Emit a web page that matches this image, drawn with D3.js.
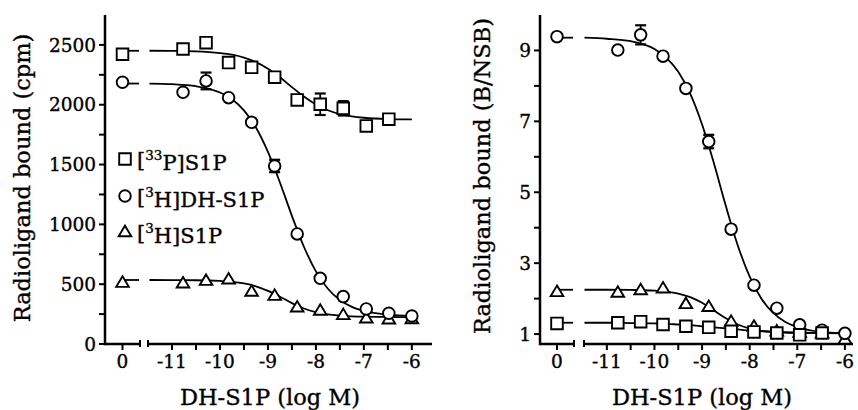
<!DOCTYPE html>
<html><head><meta charset="utf-8">
<script src="https://cdn.jsdelivr.net/npm/d3@7"></script>
<style>
html,body{margin:0;padding:0;background:#fff;}
svg text{font-family:"DejaVu Serif",serif;fill:#000;stroke:#000;stroke-width:0.35px;}
</style></head>
<body><svg id="chart" width="858" height="410"></svg>
<script>
// ---------- DATA ----------
const logConc = [-10.77, -10.29, -9.82, -9.34, -8.86, -8.39, -7.91, -7.43, -6.95, -6.48, -6.0];
const xTickMajor = [-11, -10, -9, -8, -7, -6];
const xTickMinor = [-10.5, -9.5, -8.5, -7.5, -6.5];
const xTickLabels = ["-11", "-10", "-9", "-8", "-7", "-6"];
const curveX = [-11.47, -11, -10.5, -10, -9.75, -9.5, -9.25, -9, -8.75, -8.5, -8.25, -8, -7.75, -7.5, -7.25, -7, -6.5, -6];

// Left panel (cpm)
const leftYTicks = [0, 500, 1000, 1500, 2000, 2500];
const leftYMinor = [250, 750, 1250, 1750, 2250];
const leftSquare0 = 2422;
const leftSquare = [2466, 2519, 2352, 2313, 2230, 2040, 2004, 1970, 1823, 1879];
const leftSquareErr = [0, 0, 0, 0, 0, 0, 90, 60, 0, 0];
const leftCircle0 = 2188;
const leftCircle = [2104, 2199, 2059, 1853, 1488, 920, 549, 396, 293, 257, 234];
const leftCircleErr = [0, 70, 0, 0, 52, 0, 0, 0, 0, 0, 0];
const leftTriangle0 = 513;
const leftTriangle = [507, 529, 541, 438, 404, 307, 279, 243, 215, 206, 209];
const leftSquareCurve = [2451, 2450, 2446, 2432, 2418, 2394, 2356, 2301, 2229, 2147, 2068, 2002, 1954, 1922, 1903, 1891, 1880, 1877];
const leftCircleCurve = [2177, 2172, 2155, 2102, 2046, 1953, 1810, 1606, 1350, 1071, 813, 607, 462, 368, 310, 276, 245, 235];
const leftTriangleCurve = [535, 534, 533, 527, 520, 506, 482, 444, 395, 342, 297, 266, 247, 237, 231, 228, 226, 225];

// Right panel (B/NSB)
const rightYTicks = [1, 3, 5, 7, 9];
const rightYMinor = [2, 4, 6, 8];
const rightCircle0 = 9.39;
const rightCircle = [9.01, 9.44, 8.84, 7.93, 6.43, 3.96, 2.38, 1.73, 1.26, 1.11, 1.02];
const rightCircleErr = [0, 0.27, 0, 0, 0.19, 0, 0, 0, 0, 0, 0];
const rightTriangle0 = 2.19;
const rightTriangle = [2.17, 2.24, 2.29, 1.85, 1.77, 1.35, 1.21, 1.08, 1.04, 1.02, 0.85];
const rightSquare0 = 1.30;
const rightSquare = [1.32, 1.35, 1.27, 1.22, 1.19, 1.08, 1.06, 1.03, 0.98, 1.03];
const rightCircleCurve = [9.36, 9.33, 9.26, 9.04, 8.79, 8.40, 7.78, 6.91, 5.81, 4.61, 3.50, 2.62, 1.99, 1.59, 1.34, 1.20, 1.06, 1.02];
const rightTriangleCurve = [2.25, 2.25, 2.244, 2.224, 2.196, 2.142, 2.043, 1.882, 1.667, 1.446, 1.27, 1.157, 1.093, 1.061, 1.045, 1.037, 1.031, 1.03];
const rightSquareCurve = [1.32, 1.32, 1.31, 1.30, 1.29, 1.27, 1.25, 1.22, 1.19, 1.16, 1.13, 1.10, 1.08, 1.06, 1.05, 1.04, 1.03, 1.02];

const legendLabels = [["[", "33", "P]S1P"], ["[", "3", "H]DH-S1P"], ["[", "3", "H]S1P"]];
const xTitle = "DH-S1P (log M)";
const leftYTitle = "Radioligand bound (cpm)";
const rightYTitle = "Radioligand bound (B/NSB)";

// ---------- DRAW ----------
const svg = d3.select("#chart");
const AX_W = 2.5;

function markerPath(shape, cx, cy) {
  if (shape === "square") { const s = 5.8; return `M${cx-s},${cy-s}H${cx+s}V${cy+s}H${cx-s}Z`; }
  if (shape === "triangle") { const w = 6.3, h = 10.5; return `M${cx},${cy-h*0.6}L${cx+w},${cy+h*0.4}L${cx-w},${cy+h*0.4}Z`; }
  return null;
}
function drawMarker(g, shape, cx, cy) {
  if (shape === "circle") {
    g.append("circle").attr("cx", cx).attr("cy", cy).attr("r", 5.8)
      .attr("fill", "#fff").attr("stroke", "#000").attr("stroke-width", 1.9);
  } else {
    g.append("path").attr("d", markerPath(shape, cx, cy))
      .attr("fill", "#fff").attr("stroke", "#000").attr("stroke-width", 1.9);
  }
}

function panel(cfg) {
  const g = svg.append("g");
  const y = d3.scaleLinear().domain(cfg.yDomain).range([344, 15]);
  const x0 = d3.scaleLinear().domain([-0.36, 0.36]).range([cfg.axisX, cfg.seg1End]);
  const x = d3.scaleLinear().domain(cfg.xDomain).range([cfg.seg2Start, cfg.seg2End]);
  const yBase = y(cfg.yDomain[0]);

  g.append("line").attr("x1", cfg.axisX).attr("x2", cfg.axisX).attr("y1", y(cfg.yDomain[1])).attr("y2", yBase + AX_W/2)
    .attr("stroke", "#000").attr("stroke-width", AX_W);
  g.append("line").attr("x1", cfg.axisX).attr("x2", cfg.seg1End).attr("y1", yBase).attr("y2", yBase)
    .attr("stroke", "#000").attr("stroke-width", AX_W);
  g.append("line").attr("x1", cfg.seg2Start).attr("x2", cfg.seg2End).attr("y1", yBase).attr("y2", yBase)
    .attr("stroke", "#000").attr("stroke-width", AX_W);
  [cfg.seg1End, cfg.seg2Start].forEach(px => {
    g.append("line").attr("x1", px).attr("x2", px).attr("y1", yBase - 4).attr("y2", yBase + 3)
      .attr("stroke", "#000").attr("stroke-width", 2);
  });
  cfg.yTicks.concat(cfg.yMinor).forEach(v => {
    g.append("line").attr("x1", cfg.axisX - 6).attr("x2", cfg.axisX).attr("y1", y(v)).attr("y2", y(v))
      .attr("stroke", "#000").attr("stroke-width", 2);
  });
  cfg.yTicks.forEach(v => {
    g.append("text").attr("x", cfg.axisX - 9).attr("y", y(v)).attr("dy", "0.36em")
      .attr("text-anchor", "end").attr("font-size", 18.5).text(v);
  });
  const xt = [{px: x0(0), lab: "0"}].concat(xTickMajor.map((v, i) => ({px: x(v), lab: xTickLabels[i]})));
  xt.forEach(t => {
    g.append("line").attr("x1", t.px).attr("x2", t.px).attr("y1", yBase).attr("y2", yBase + 6)
      .attr("stroke", "#000").attr("stroke-width", 2);
    g.append("text").attr("x", t.px).attr("y", 368).attr("text-anchor", "middle").attr("font-size", 18.5).text(t.lab);
  });
  xTickMinor.forEach(v => {
    g.append("line").attr("x1", x(v)).attr("x2", x(v)).attr("y1", yBase).attr("y2", yBase + 6)
      .attr("stroke", "#000").attr("stroke-width", 2);
  });
  g.append("text").attr("x", cfg.titleX).attr("y", 405).attr("text-anchor", "middle").attr("font-size", 22.5).text(xTitle);
  g.append("text").attr("transform", `translate(${cfg.yTitleX},${cfg.yTitleY}) rotate(-90)`)
    .attr("text-anchor", "middle").attr("dy", "0.35em").attr("font-size", 22.5).text(cfg.yTitle);

  const line = d3.line().x(d => x(d[0])).y(d => y(d[1])).curve(d3.curveMonotoneX);
  cfg.series.forEach(s => {
    g.append("path").attr("d", line(curveX.map((cx, i) => [cx, s.curve[i]])))
      .attr("fill", "none").attr("stroke", "#000").attr("stroke-width", 1.8);
    g.append("line").attr("x1", x0(0)).attr("x2", x0(0.34)).attr("y1", y(s.curve[0])).attr("y2", y(s.curve[0]))
      .attr("stroke", "#000").attr("stroke-width", 1.8);
  });
  cfg.series.forEach(s => {
    const mg = g.append("g");
    s.vals.forEach((v, i) => {
      const e = s.err ? s.err[i] : 0;
      if (e > 0) {
        const cx = x(logConc[i]);
        mg.append("line").attr("x1", cx).attr("x2", cx).attr("y1", y(v + e)).attr("y2", y(v - e)).attr("stroke", "#000").attr("stroke-width", 1.8);
        [v + e, v - e].forEach(w => mg.append("line").attr("x1", cx - 5.5).attr("x2", cx + 5.5).attr("y1", y(w)).attr("y2", y(w)).attr("stroke", "#000").attr("stroke-width", 2.2));
      }
    });
    drawMarker(mg, s.shape, x0(0), y(s.v0));
    s.vals.forEach((v, i) => drawMarker(mg, s.shape, x(logConc[i]), y(v)));
  });
}

panel({
  axisX: 105, seg1End: 140, seg2Start: 148, seg2End: 432, xDomain: [-11.5, -5.58],
  yDomain: [0, 2750], yTicks: leftYTicks, yMinor: leftYMinor,
  titleX: 270, yTitleX: 22, yTitleY: 178, yTitle: leftYTitle,
  series: [
    {shape: "triangle", v0: leftTriangle0, vals: leftTriangle, curve: leftTriangleCurve},
    {shape: "square", v0: leftSquare0, vals: leftSquare, err: leftSquareErr, curve: leftSquareCurve},
    {shape: "circle", v0: leftCircle0, vals: leftCircle, err: leftCircleErr, curve: leftCircleCurve}
  ]
});
panel({
  axisX: 540, seg1End: 574, seg2Start: 584, seg2End: 853, xDomain: [-11.48, -5.83],
  yDomain: [0.72, 10], yTicks: rightYTicks, yMinor: rightYMinor,
  titleX: 702, yTitleX: 482, yTitleY: 176, yTitle: rightYTitle,
  series: [
    {shape: "triangle", v0: rightTriangle0, vals: rightTriangle, curve: rightTriangleCurve},
    {shape: "circle", v0: rightCircle0, vals: rightCircle, err: rightCircleErr, curve: rightCircleCurve},
    {shape: "square", v0: rightSquare0, vals: rightSquare, curve: rightSquareCurve}
  ]
});

const legShapes = ["square", "circle", "triangle"];
const legY = [159, 196, 232];
const lg = svg.append("g");
legShapes.forEach((sh, i) => {
  drawMarker(lg, sh, 125, legY[i]);
  const t = lg.append("text").attr("x", 137).attr("y", legY[i]).attr("dy", "0.36em").attr("font-size", 21);
  t.append("tspan").text(legendLabels[i][0]);
  t.append("tspan").attr("dy", "-0.45em").attr("font-size", 13.5).text(legendLabels[i][1]);
  t.append("tspan").attr("dy", "0.45em").text(legendLabels[i][2]);
});
</script>
</body></html>
